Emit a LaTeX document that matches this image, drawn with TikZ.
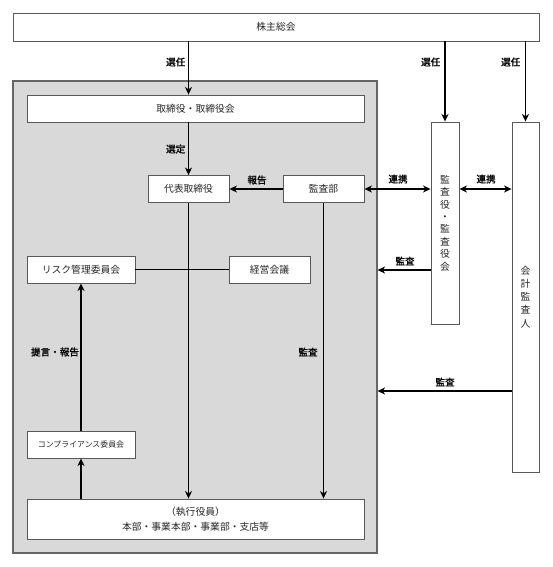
\documentclass[tikz,border=0pt]{standalone}
\usepackage{fontspec}
\setmainfont{Noto Sans CJK JP}
\newfontfamily\lblfont[FakeBold=1.2]{Noto Sans CJK JP}
\usetikzlibrary{arrows.meta}
\begin{document}
\begin{tikzpicture}[x=1pt,y=-1pt,
  font=\fontsize{9.8}{12.4}\selectfont,
  box/.style={draw=black!65,line width=0.9pt,fill=white,inner sep=0pt,align=center,text=black!85},
  grpbox/.style={draw=black!60,line width=1.1pt,fill=black!15,inner sep=0pt},
  arr/.style={line width=1.1pt,-{Stealth[length=7.5pt,width=7pt,inset=2.2pt]}},
  darr/.style={line width=1.1pt,{Stealth[length=7.5pt,width=7pt,inset=2.2pt]}-{Stealth[length=7.5pt,width=7pt,inset=2.2pt]}},
  plain/.style={line width=1.1pt},
  lbl/.style={inner sep=0pt,font=\lblfont\fontsize{9.6}{12}\selectfont}
]
\useasboundingbox (0,0) rectangle (553,567);
\fill[white] (0,0) rectangle (553,567);
% container
\node[grpbox,minimum width=364pt,minimum height=472pt] (grp) at (195,317) {};
% boxes
\node[box,minimum width=526pt,minimum height=28pt] (kabu) at (276,27) {株主総会};
\node[box,minimum width=337pt,minimum height=27pt] (tori) at (195.5,108.5) {取締役・取締役会};
\node[box,minimum width=81pt,minimum height=27pt] (daihyo) at (188.5,189) {代表取締役};
\node[box,minimum width=81pt,minimum height=27pt] (kansabu) at (323.5,189) {監査部};
\node[box,minimum width=108pt,minimum height=27pt] (risk) at (81,269.5) {リスク管理委員会};
\node[box,minimum width=81pt,minimum height=27pt] (keiei) at (269.5,269.5) {経営会議};
\node[box,minimum width=108pt,minimum height=27pt,font=\fontsize{7.9}{10}\selectfont] (comp) at (81,444.5) {コンプライアンス委員会};
\node[box,minimum width=337pt,minimum height=40pt,font=\fontsize{9.8}{14.5}\selectfont] (shikko) at (195.5,519) {（執行役員）\\本部・事業本部・事業部・支店等};
\node[box,minimum width=28pt,minimum height=202pt] (kansayaku) at (445,223) {監\\査\\役\\・\\監\\査\\役\\会};
\node[box,minimum width=27pt,minimum height=350pt,font=\fontsize{9.8}{13.2}\selectfont] (kaikei) at (525.5,297) {会\\計\\監\\査\\人};
% helper coordinates
\coordinate (y1) at (0,270);
\coordinate (y2) at (0,391);
% connectors
\draw[arr] (kabu.south -| daihyo.north) -- (tori.north -| daihyo.north);
\draw[arr] (kabu.south -| kansayaku.north) -- (kansayaku.north);
\draw[arr] (kabu.south -| kaikei.north) -- (kaikei.north);
\draw[arr] (tori.south -| daihyo.north) -- (daihyo.north);
\draw[arr] (kansabu.west) -- (daihyo.east);
\draw[plain] (risk.east) -- (keiei.west);
\draw[arr] (daihyo.south) -- (daihyo.south |- shikko.north);
\draw[arr] (kansabu.south) -- (kansabu.south |- shikko.north);
\draw[arr] (shikko.north -| comp.south) -- (comp.south);
\draw[arr] (comp.north) -- (risk.south);
\draw[darr] (kansabu.east) -- (kansabu.east -| kansayaku.west);
\draw[darr] (kansabu.east -| kansayaku.east) -- (kansabu.east -| kaikei.west);
\draw[arr] (y1 -| kansayaku.west) -- (y1 -| grp.east);
\draw[arr] (y2 -| kaikei.west) -- (y2 -| grp.east);
% labels
\node[lbl,anchor=east] (l1) at (185.5,62) {選任};
\node[lbl,anchor=east] (l2) at (440.5,62) {選任};
\node[lbl,anchor=east] (l3) at (520.5,62) {選任};
\node[lbl,anchor=east] (l4) at (185.5,149) {選定};
\node[lbl] (l5) at (257,180) {報告};
\node[lbl] (l6) at (398,179) {連携};
\node[lbl] (l7) at (486,179) {連携};
\node[lbl] (l8) at (405,261) {監査};
\node[lbl] (l9) at (445,382) {監査};
\node[lbl] (l10) at (308,352) {監査};
\node[lbl] (l11) at (55,352) {提言・報告};
\end{tikzpicture}
\end{document}
